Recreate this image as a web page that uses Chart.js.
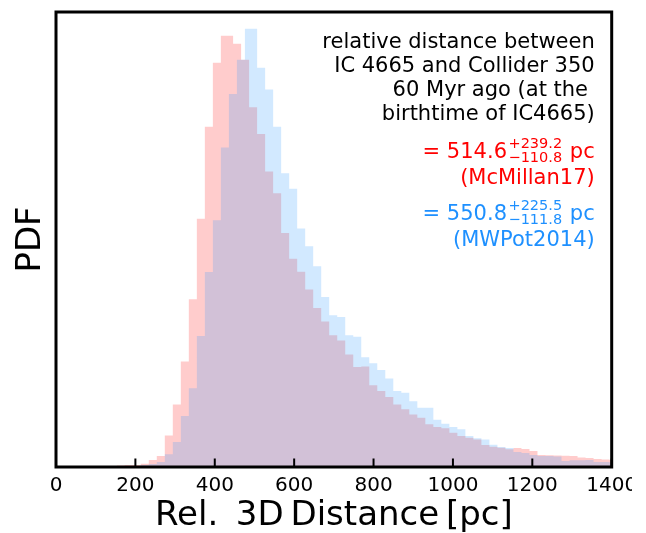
<!DOCTYPE html>
<html lang="en">
<head>
    <meta charset="UTF-8">
    <title>Relative 3D distance IC 4665 - Collider 350</title>
    <style>
        html, body {
            margin: 0;
            padding: 0;
            background: #fff;
            overflow: hidden;
        }
        #wrap {
            width: 632px;
            height: 533px;
        }
    </style>
</head>
<body>
    <div id="wrap"><canvas id="chart" width="632" height="533"></canvas></div>

    <script src="https://cdn.jsdelivr.net/npm/chart.js"></script>
    <script>
        // histogram bin width (pc)
        const binWidth = 20.18;

        // McMillan17 potential: PDF (1e-3 / pc), first part ends with one wider bin
        const redStartA = 153.0;
        const redHeightsA = [0.011, 0.015, 0.015, 0.024, 0.051, 0.080, 0.230, 0.457, 0.773, 1.228,
            1.817, 2.490, 2.958, 3.156];
        const redStartB = 446.2;
        const redHeightsB = [3.097, 2.980, 2.632, 2.438, 2.162, 2.003, 1.713, 1.524, 1.429, 1.299,
            1.164, 1.064, 0.965, 0.925, 0.824, 0.731, 0.736, 0.599, 0.556, 0.512,
            0.458, 0.422, 0.385, 0.360, 0.312, 0.292, 0.283, 0.251, 0.227, 0.214,
            0.202, 0.161, 0.148, 0.141, 0.129, 0.139, 0.132, 0.117, 0.088, 0.086,
            0.084, 0.083, 0.080, 0.069, 0.066, 0.058, 0.055, 0.051];

        // MWPot2014 potential
        const blueStartA = 193.4;
        const blueHeightsA = [0.004, 0.015, 0.022, 0.037, 0.093, 0.183, 0.373, 0.577, 0.958, 1.428,
            1.806, 2.339, 2.729, 2.980, 3.207];
        const blueStartB = 506.7;
        const blueHeightsB = [2.922, 2.763, 2.491, 2.149, 2.037, 1.745, 1.616, 1.469, 1.245, 1.111,
            1.097, 0.965, 0.954, 0.804, 0.760, 0.709, 0.648, 0.556, 0.543, 0.482,
            0.433, 0.433, 0.346, 0.317, 0.292, 0.276, 0.227, 0.210, 0.202, 0.163,
            0.146, 0.139, 0.110, 0.102, 0.088, 0.080, 0.080, 0.077, 0.044, 0.049,
            0.049, 0.051, 0.037, 0.037, 0.033];

        const xTicks = [0, 200, 400, 600, 800, 1000, 1200, 1400];

        const noteLines = ['relative distance between', 'IC 4665 and Collider 350',
            '60 Myr ago (at the ', 'birthtime of IC4665)'];
        const redResult = { main: '= 514.6', sup: '+239.2', sub: '\u2212110.8', name: '(McMillan17)' };
        const blueResult = { main: '= 550.8', sup: '+225.5', sub: '\u2212111.8', name: '(MWPot2014)' };

        const FONT = '"DejaVu Sans", "Liberation Sans", sans-serif';

        // turn the bins into points of a stepped outline
        function stepPoints(startA, hA, startB, hB) {
            const bins = [];
            hA.forEach((h, i) => {
                const left = startA + i * binWidth;
                const right = i === hA.length - 1 ? startB : left + binWidth;
                bins.push([left, right, h]);
            });
            hB.forEach((h, i) => {
                bins.push([startB + i * binWidth, startB + (i + 1) * binWidth, h]);
            });
            const pts = [{ x: bins[0][0], y: 0 }];
            bins.forEach(b => pts.push({ x: b[0], y: b[2] }));
            const last = bins[bins.length - 1];
            pts.push({ x: last[1], y: last[2] });
            pts.push({ x: last[1], y: 0 });
            return pts;
        }

        function drawResult(ctx, right, base, r, color) {
            ctx.fillStyle = color;
            ctx.textAlign = 'right';
            ctx.textBaseline = 'alphabetic';
            ctx.font = '21px ' + FONT;
            ctx.fillText(' pc', right, base);
            let x = right - ctx.measureText(' pc').width - 1;
            ctx.font = '14.5px ' + FONT;
            ctx.fillText(r.sup, x, base - 10);
            ctx.fillText(r.sub, x, base + 4);
            const w = Math.max(ctx.measureText(r.sup).width, ctx.measureText(r.sub).width);
            x -= w + 1.5;
            ctx.font = '21px ' + FONT;
            ctx.fillText(r.main, x, base);
            ctx.fillText(r.name, right, base + 26);
        }

        // frame, inward ticks and the text block
        const decorations = {
            id: 'decorations',
            afterDraw(chart) {
                const { ctx, chartArea: a, scales: { x } } = chart;
                ctx.save();
                ctx.strokeStyle = '#000';
                ctx.lineWidth = 3;
                ctx.strokeRect(a.left, a.top, a.right - a.left, a.bottom - a.top);
                ctx.lineWidth = 2;
                xTicks.forEach(v => {
                    const px = x.getPixelForValue(v);
                    ctx.beginPath();
                    ctx.moveTo(px, a.bottom);
                    ctx.lineTo(px, a.bottom - 8.5);
                    ctx.stroke();
                });

                const right = a.right - 17;
                ctx.fillStyle = '#000';
                ctx.textAlign = 'right';
                ctx.textBaseline = 'alphabetic';
                ctx.font = '21px ' + FONT;
                noteLines.forEach((t, i) => ctx.fillText(t, right, a.top + 35.5 + i * 24));

                drawResult(ctx, right, a.top + 145.5, redResult, '#ff0000');
                drawResult(ctx, right, a.top + 208, blueResult, '#1e90ff');
                ctx.restore();
            }
        };

        new Chart(document.getElementById('chart'), {
            type: 'line',
            data: {
                datasets: [
                    {
                        label: 'MWPot2014',
                        data: stepPoints(blueStartA, blueHeightsA, blueStartB, blueHeightsB),
                        stepped: true,
                        fill: 'origin',
                        backgroundColor: 'rgba(30, 144, 255, 0.2)',
                        borderColor: 'rgba(0, 0, 0, 0)',
                        borderWidth: 0,
                        pointRadius: 0
                    },
                    {
                        label: 'McMillan17',
                        data: stepPoints(redStartA, redHeightsA, redStartB, redHeightsB),
                        stepped: true,
                        fill: 'origin',
                        backgroundColor: 'rgba(255, 0, 0, 0.2)',
                        borderColor: 'rgba(0, 0, 0, 0)',
                        borderWidth: 0,
                        pointRadius: 0
                    }
                ]
            },
            options: {
                responsive: false,
                animation: false,
                events: [],
                layout: { padding: { top: 12, right: 20.3, left: 0, bottom: 0 } },
                plugins: {
                    legend: { display: false },
                    tooltip: { enabled: false }
                },
                scales: {
                    x: {
                        type: 'linear',
                        min: 0,
                        max: 1400,
                        afterBuildTicks: scale => {
                            scale.ticks = xTicks.map(v => ({ value: v }));
                        },
                        afterFit: scale => {
                            scale.height = 66;
                            scale.paddingLeft = 0;
                            scale.paddingRight = 0;
                        },
                        grid: { display: false, drawTicks: false },
                        border: { display: false },
                        ticks: {
                            autoSkip: false,
                            maxRotation: 0,
                            padding: 7,
                            color: '#000',
                            font: { family: FONT, size: 20 },
                            callback: v => String(v)
                        },
                        title: {
                            display: true,
                            text: 'Rel. \u20093D\u2009Distance\u2009[pc]',
                            color: '#000',
                            font: { family: FONT, size: 34, lineHeight: 1 },
                            padding: { top: 0, bottom: 0 }
                        }
                    },
                    y: {
                        min: 0,
                        max: 3.33,
                        afterFit: scale => {
                            scale.width = 56;
                        },
                        grid: { display: false, drawTicks: false },
                        border: { display: false },
                        ticks: { display: false },
                        title: {
                            display: true,
                            text: 'PDF',
                            color: '#000',
                            font: { family: FONT, size: 34, lineHeight: 1 },
                            padding: { top: 14, bottom: 0 }
                        }
                    }
                }
            },
            plugins: [decorations]
        });
    </script>
</body>
</html>
